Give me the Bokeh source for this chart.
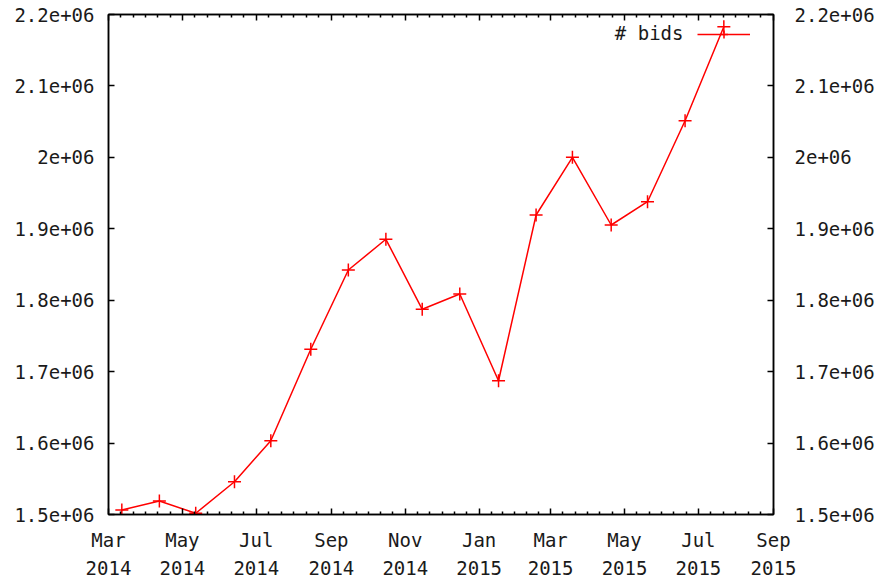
from datetime import datetime

from bokeh.embed import file_html
from bokeh.models import (ColumnDataSource, CustomJSTickFormatter, FixedTicker,
                          Label, Legend, LegendItem, LinearAxis, Range1d)
from bokeh.plotting import figure
from bokeh.resources import INLINE

# Monthly number of bids
dates = ["2014-03-12", "2014-04-12", "2014-05-12", "2014-06-13", "2014-07-13",
         "2014-08-15", "2014-09-15", "2014-10-16", "2014-11-15", "2014-12-16",
         "2015-01-17", "2015-02-17", "2015-03-19", "2015-04-20", "2015-05-20",
         "2015-06-20", "2015-07-22"]
bids = [1506300, 1518900, 1501700, 1545900, 1603300,
        1731300, 1842300, 1885300, 1787300, 1808700,
        1687300, 1919300, 2000100, 1905300, 1937900,
        2051300, 2182900]
series_name = "# bids"

# Axis ticks and labels
month_ticks = ["2014-03-01", "2014-05-01", "2014-07-01", "2014-09-01",
               "2014-11-01", "2015-01-01", "2015-03-01", "2015-05-01",
               "2015-07-01", "2015-09-01"]
month_labels = ["Mar\n2014", "May\n2014", "Jul\n2014", "Sep\n2014",
                "Nov\n2014", "Jan\n2015", "Mar\n2015", "May\n2015",
                "Jul\n2015", "Sep\n2015"]
y_ticks = [1500000, 1600000, 1700000, 1800000, 1900000,
           2000000, 2100000, 2200000]
y_labels = ["1.5e+06", "1.6e+06", "1.7e+06", "1.8e+06", "1.9e+06",
            "2e+06", "2.1e+06", "2.2e+06"]

FONT = "DejaVu Sans Mono"
FONT_SIZE = "19px"
TEXT_COLOR = "#1a1a1a"
EPOCH = datetime(1970, 1, 1)


def to_dt(s):
    return datetime.strptime(s, "%Y-%m-%d")


def to_ms(s):
    return (to_dt(s) - EPOCH).total_seconds() * 1000.0


src = ColumnDataSource(dict(date=[to_dt(d) for d in dates], bids=bids))

p = figure(width=881, height=582, x_axis_type="datetime",
           output_backend="svg", toolbar_location=None,
           min_border_left=108, min_border_right=108,
           min_border_top=14, min_border_bottom=67,
           background_fill_color="white", border_fill_color="white")

p.x_range = Range1d(to_dt(month_ticks[0]), to_dt(month_ticks[-1]))
p.y_range = Range1d(y_ticks[0], y_ticks[-1])
p.xgrid.visible = False
p.ygrid.visible = False
p.outline_line_color = "black"
p.outline_line_width = 1.5

# ticks: majors every two months, five minor ticks in between
major_ms = [to_ms(t) for t in month_ticks]
minor_ms = []
for a, b in zip(major_ms[:-1], major_ms[1:]):
    minor_ms += [a + k * (b - a) / 6.0 for k in range(1, 6)]
xticker = FixedTicker(ticks=major_ms, minor_ticks=minor_ms)
yticker = FixedTicker(ticks=y_ticks, minor_ticks=[])

lookup_code = """
for (let i = 0; i < vals.length; i++) {
    if (Math.abs(vals[i] - tick) < 1) { return labels[i]; }
}
return "";
"""
xfmt = CustomJSTickFormatter(args=dict(vals=major_ms, labels=month_labels), code=lookup_code)
yfmt = CustomJSTickFormatter(args=dict(vals=y_ticks, labels=y_labels), code=lookup_code)
blank = CustomJSTickFormatter(code="return '';")


def style_axis(ax):
    ax.axis_line_color = "black"
    ax.axis_line_width = 1.5
    ax.major_tick_in = 6
    ax.major_tick_out = 0
    ax.minor_tick_in = 3
    ax.minor_tick_out = 0
    ax.major_tick_line_color = "black"
    ax.major_tick_line_width = 1.5
    ax.minor_tick_line_color = "black"
    ax.minor_tick_line_width = 1.5
    ax.major_label_text_font = FONT
    ax.major_label_text_font_size = FONT_SIZE
    ax.major_label_text_color = TEXT_COLOR


bottom = p.below[0]
bottom.ticker = xticker
bottom.formatter = xfmt
style_axis(bottom)
bottom.major_label_standoff = 14
bottom.major_label_text_line_height = 1.3

left = p.left[0]
left.ticker = yticker
left.formatter = yfmt
style_axis(left)
left.major_label_standoff = 14

top = LinearAxis(ticker=xticker, formatter=blank)
style_axis(top)
top.major_label_standoff = 0
p.add_layout(top, "above")

right = LinearAxis(ticker=yticker, formatter=yfmt)
style_axis(right)
right.major_label_standoff = 21
p.add_layout(right, "right")

line_r = p.line(x="date", y="bids", source=src, line_color="red", line_width=1.5)
mark_r = p.scatter(x="date", y="bids", source=src, marker="cross", size=13,
                   line_color="red", line_width=1.5)

# key in the top right corner: sample line with its name written before it
legend = Legend(items=[LegendItem(label="", renderers=[line_r, mark_r])],
                location=(589, 470), orientation="vertical",
                glyph_width=53, glyph_height=20, label_standoff=0,
                label_text_font_size="1px",
                padding=0, margin=0, spacing=0,
                border_line_color=None, background_fill_alpha=0)
p.add_layout(legend)

key_text = Label(x=575, y=482, x_units="screen", y_units="screen",
                 text=series_name, text_align="right", text_baseline="middle",
                 text_font=FONT, text_font_size=FONT_SIZE, text_color=TEXT_COLOR)
p.add_layout(key_text)

open("out.html", "w").write(file_html(p, INLINE))
